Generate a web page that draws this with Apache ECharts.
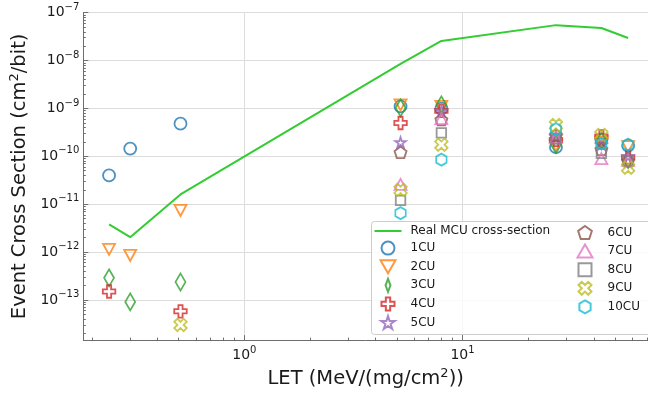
<!DOCTYPE html>
<html><head><meta charset="utf-8">
<script src="https://cdn.jsdelivr.net/npm/echarts@6/dist/echarts.min.js"></script>
<style>html,body{margin:0;padding:0;background:#fff}#c{width:648px;height:394px}</style>
</head><body><div id="c"></div>
<script>
// ---- data ----
const seriesNames = ['1CU','2CU','3CU','4CU','5CU','6CU','7CU','8CU','9CU','10CU'];
const letValues = [0.24, 0.30, 0.51, 5.2, 8.0, 26.8, 43.3, 57.4];
const mcuName = 'Real MCU cross-section';
const mcuLet = [0.24, 0.30, 0.51, 5.2, 8.0, 26.8, 43.3, 57.4];
const mcuCross = [3.8e-12, 2.05e-12, 1.6e-11, 8.5e-9, 2.57e-8, 5.5e-8, 4.8e-8, 2.97e-8];
const cu1  = [4.0e-11, 1.45e-10, 4.8e-10, 1.10e-9, 9.9e-10, 1.55e-10, 2.2e-10, 1.67e-10];
const cu2  = [1.14e-12, 8.5e-13, 7.4e-12, 1.19e-9, 1.1e-9, 1.7e-10, 2.0e-10, 1.6e-10];
const cu3  = [2.9e-13, 9.1e-14, 2.37e-13, 1.03e-9, 1.19e-9, 1.75e-10, 2.1e-10, 8.5e-11];
const cu4  = [1.5e-13, null, 5.8e-14, 4.97e-10, 8.9e-10, 2.2e-10, 2.6e-10, 9.5e-11];
const cu5  = [null, null, null, 1.96e-10, 8.9e-10, 2.6e-10, 1.75e-10, 1.0e-10];
const cu6  = [null, null, null, 1.21e-10, 5.8e-10, 2.8e-10, 1.4e-10, 8.0e-11];
const cu7  = [null, null, null, 2.6e-11, 6.1e-10, 2.45e-10, 9.0e-11, 8.2e-11];
const cu8  = [null, null, null, 1.2e-11, 3.1e-10, 2.3e-10, 1.15e-10, 8.0e-11];
const cu9  = [null, null, 3.0e-14, 2.0e-11, 1.75e-10, 4.5e-10, 2.8e-10, 5.8e-11];
const cu10 = [null, null, null, 6.5e-12, 8.5e-11, 3.7e-10, 1.85e-10, 1.75e-10];
const cuValues = [cu1, cu2, cu3, cu4, cu5, cu6, cu7, cu8, cu9, cu10];
const xMajorTicks = [1, 10];
const xMinorTicks = [0.2,0.3,0.4,0.5,0.6,0.7,0.8,0.9,2,3,4,5,6,7,8,9,20,30,40,50,60,70];
const yMajorTicks = [1e-13, 1e-12, 1e-11, 1e-10, 1e-9, 1e-8, 1e-7];
const yMinorMult = [2,3,4,5,6,7,8,9];
const yMinorExp = [-14,-13,-12,-11,-10,-9,-8];

// ---- styles ----
const colors = ['#1f77b4','#ff7f0e','#2ca02c','#d62728','#9467bd','#8c564b','#e377c2','#7f7f7f','#bcbd22','#17becf'];
const symbols = [
  'circle',
  'path://M0,0 L2,0 L1,1.732 Z',
  'path://M3,0 L6,8 L3,16 L0,8 Z',
  'path://M2,0 H4 V2 H6 V4 H4 V6 H2 V4 H0 V2 H2 Z',
  'path://M100,0 L122.45,69.1 L195.1,69.1 L136.3,111.8 L158.8,180.9 L100,138.2 L41.2,180.9 L63.7,111.8 L4.9,69.1 L77.55,69.1 Z',
  'path://M100,0 L195.1,69.1 L158.8,180.9 L41.2,180.9 L4.9,69.1 Z',
  'path://M1,0 L2,1.732 L0,1.732 Z',
  'path://M0,0 H10 V10 H0 Z',
  'path://M1,4 L2,3 L3,4 L4,3 L3,2 L4,1 L3,0 L2,1 L1,0 L0,1 L1,2 L0,3 Z',
  'path://M86.6,0 L173.2,50 L173.2,150 L86.6,200 L0,150 L0,50 Z'
];
const sizes = [12, [12,11], [10,17], 12.5, [10.5,10], [12,11.4], [12,11], 9.5, 12.5, [10.4,12]];

const yMinorTicks = [];
yMinorExp.forEach(e => yMinorMult.forEach(m => yMinorTicks.push(m * Math.pow(10, e))));

const FONT = 'DejaVu Sans';
const TXT = '#1a1a1a';
const AX = '#6e6e6e';
const xMin = 0.1829, xMax = 70.8;
const yMin = 1.45e-14, yMax = 1e-7;

function supLabel(v) {
  const e = Math.round(Math.log10(v));
  return '10{s|' + String(e).replace('-', '\u2212') + '}';
}

const series = [{
  type: 'line', name: mcuName,
  data: mcuLet.map((x, i) => [x, mcuCross[i]]),
  symbol: 'none', showSymbol: false,
  lineStyle: { color: '#33cc33', width: 2 },
  itemStyle: { color: '#33cc33' },
  z: 2, silent: true, animation: false
}];
seriesNames.forEach((n, k) => {
  series.push({
    type: 'scatter', name: n,
    data: letValues.map((x, i) => [x, cuValues[k][i]]).filter(p => p[1] != null),
    symbol: symbols[k], symbolSize: sizes[k],
    itemStyle: { color: 'rgba(255,255,255,0)', borderColor: colors[k], borderWidth: 1.8 },
    z: 3, silent: true, animation: false
  });
});

const legendCommon = {
  orient: 'vertical', top: 225, padding: 0,
  itemWidth: 27, itemHeight: 13, itemGap: 3.6,
  selectedMode: false, z: 10,
  textStyle: { fontFamily: FONT, fontSize: 12, color: TXT, padding: [0,0,0,4] }
};

const option = {
  animation: false,
  backgroundColor: '#ffffff',
  grid: { left: 80.7, right: -2, top: 12.7, bottom: 53, containLabel: false },
  xAxis: [{
    type: 'log', min: xMin, max: xMax, logBase: 10,
    name: '{n|LET (MeV/(mg/cm}{s|2}{n|))}',
    nameLocation: 'middle', nameGap: 27,
    nameTextStyle: { fontFamily: FONT, color: TXT,
      rich: { n: { fontSize: 19.5, fontFamily: FONT, color: TXT }, s: { fontSize: 13, fontFamily: FONT, color: TXT, padding: [0,0,10,0] } } },
    axisLine: { show: true, lineStyle: { color: AX, width: 1 } },
    axisTick: { show: true, inside: true, length: 5, customValues: xMajorTicks, lineStyle: { color: AX } },
    axisLabel: { show: true, customValues: xMajorTicks, margin: 5, formatter: supLabel,
      fontFamily: FONT, fontSize: 14, color: TXT,
      rich: { s: { fontSize: 10, fontFamily: FONT, color: TXT, padding: [0,0,11,0] } } },
    splitLine: { show: true, lineStyle: { color: '#dcdcdc', width: 1 } },
    minorTick: { show: false }, minorSplitLine: { show: false }
  }, {
    type: 'log', min: xMin, max: xMax, logBase: 10, gridIndex: 0, position: 'bottom',
    axisLine: { show: false },
    axisTick: { show: true, inside: true, length: 2.5, customValues: xMinorTicks, lineStyle: { color: AX } },
    axisLabel: { show: false }, splitLine: { show: false }
  }],
  yAxis: [{
    type: 'log', min: yMin, max: yMax, logBase: 10,
    name: '{n|Event Cross Section (cm}{s|2}{n|/bit)}',
    nameLocation: 'middle', nameGap: 40,
    nameTextStyle: { fontFamily: FONT, color: TXT,
      rich: { n: { fontSize: 19.5, fontFamily: FONT, color: TXT }, s: { fontSize: 13, fontFamily: FONT, color: TXT, padding: [0,0,10,0] } } },
    axisLine: { show: true, lineStyle: { color: AX, width: 1 } },
    axisTick: { show: true, inside: true, length: 5, customValues: yMajorTicks, lineStyle: { color: AX } },
    axisLabel: { show: true, customValues: yMajorTicks, margin: 4, formatter: supLabel,
      fontFamily: FONT, fontSize: 14, color: TXT,
      rich: { s: { fontSize: 10, fontFamily: FONT, color: TXT, padding: [0,0,11,0] } } },
    splitLine: { show: true, lineStyle: { color: '#dcdcdc', width: 1 } }
  }, {
    type: 'log', min: yMin, max: yMax, logBase: 10, gridIndex: 0, position: 'left',
    axisLine: { show: false },
    axisTick: { show: true, inside: true, length: 2.5, customValues: yMinorTicks, lineStyle: { color: AX } },
    axisLabel: { show: false }, splitLine: { show: false }
  }],
  graphic: [{
    type: 'rect', z: 5, silent: true,
    shape: { x: 371.5, y: 221.5, width: 300, height: 113, r: 3 },
    style: { fill: 'rgba(255,255,255,0.8)', stroke: '#cccccc', lineWidth: 1 }
  }],
  legend: [
    Object.assign({}, legendCommon, { left: 374.5, data: [
      { name: mcuName, icon: 'path://M0,0 H20 V1.5 H0 Z' }, '1CU', '2CU', '3CU', '4CU', '5CU'] }),
    Object.assign({}, legendCommon, { left: 576.5, data: ['6CU', '7CU', '8CU', '9CU', '10CU'] })
  ],
  series: series
};

const chart = echarts.init(document.getElementById('c'), null, { renderer: 'canvas' });
chart.setOption(option);
</script>
</body></html>
